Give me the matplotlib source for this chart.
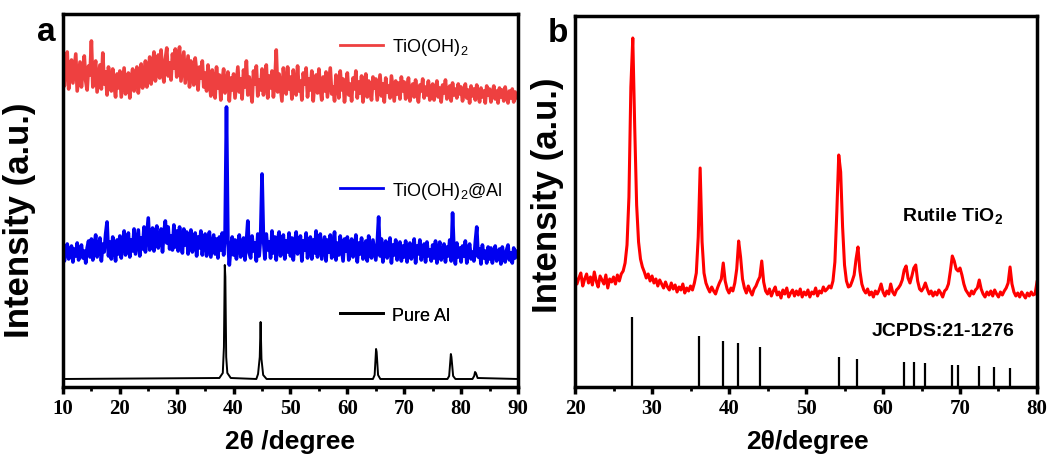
import numpy as np
import matplotlib
matplotlib.use('Agg')
import matplotlib.pyplot as plt

plt.rcParams['font.family'] = ['Liberation Sans', 'DejaVu Sans']
plt.rcParams['mathtext.fontset'] = 'custom'
plt.rcParams['mathtext.rm'] = 'Liberation Sans'
plt.rcParams['mathtext.bf'] = 'Liberation Sans:bold'

# ---- panel a: XRD patterns, 10-90 deg sampled every 0.25 deg ----
two_theta_a = np.arange(10, 90.001, 0.25)

tioh_counts = [
    330, 301, 322, 335, 298, 314, 327, 304, 319, 333, 296, 310, 325, 300, 317, 331, 306, 297, 321, 312,
    346, 300, 318, 326, 295, 309, 322, 298, 334, 303, 315, 292, 320, 307, 296, 318, 302, 290, 313, 299,
    316, 290, 305, 319, 293, 301, 314, 289, 308, 318, 296, 306, 320, 294, 311, 323, 299, 309, 326, 300,
    312, 330, 303, 321, 335, 306, 318, 332, 309, 337, 314, 305, 328, 339, 311, 324, 307, 333, 319, 338,
    310, 329, 340, 306, 321, 335, 304, 318, 331, 300, 326, 312, 302, 329, 315, 297, 320, 309, 326, 300,
    314, 296, 322, 305, 291, 317, 308, 289, 320, 299, 312, 287, 306, 318, 294, 302, 315, 286, 309, 297,
    313, 289, 304, 320, 295, 308, 288, 317, 300, 326, 292, 310, 298, 285, 316, 303, 321, 291, 307, 297,
    318, 292, 306, 322, 289, 311, 299, 316, 290, 305, 337, 295, 313, 300, 286, 319, 304, 293, 320, 298,
    310, 288, 317, 301, 292, 321, 296, 306, 287, 314, 303, 319, 290, 308, 297, 316, 286, 305, 312, 294,
    318, 299, 287, 310, 296, 315, 290, 304, 319, 293, 300, 286, 312, 306, 289, 316, 297, 308, 285, 302,
    314, 292, 303, 286, 309, 298, 316, 289, 305, 294, 311, 285, 301, 313, 290, 306, 297, 287, 310, 299,
    308, 287, 300, 312, 291, 303, 285, 309, 295, 301, 289, 311, 298, 286, 306, 293, 304, 288, 310, 296,
    305, 288, 299, 309, 286, 297, 303, 290, 307, 294, 285, 302, 296, 308, 289, 300, 292, 306, 287, 298,
    303, 287, 297, 306, 290, 299, 285, 302, 294, 307, 288, 296, 301, 286, 304, 292, 298, 289, 303, 293,
    300, 286, 295, 303, 289, 297, 284, 301, 291, 298, 287, 302, 293, 285, 299, 290, 296, 284, 301, 292,
    298, 285, 294, 301, 288, 296, 284, 299, 290, 297, 286, 300, 291, 284, 296, 289, 298, 285, 295, 290,
    288,
]

tioh_al_counts = [
    140, 126, 137, 143, 128, 133, 141, 125, 138, 131, 144, 127, 135, 142, 129, 136, 124, 139, 146, 130,
    148, 127, 141, 152, 130, 137, 149, 126, 143, 135, 153, 165, 131, 145, 128, 150, 139, 126, 147, 133,
    151, 129, 144, 156, 132, 140, 154, 130, 147, 136, 158, 133, 145, 157, 131, 149, 138, 160, 135, 152,
    169, 137, 150, 159, 136, 153, 161, 139, 147, 158, 135, 155, 166, 144, 160, 138, 151, 137, 162, 140,
    156, 136, 160, 146, 134, 158, 142, 155, 133, 149, 157, 135, 145, 154, 131, 150, 139, 156, 132, 147,
    153, 131, 146, 155, 130, 141, 152, 133, 148, 129, 150, 137, 154, 132, 152, 280, 146, 122, 139, 150,
    132, 147, 128, 143, 152, 130, 138, 149, 127, 145, 166, 134, 129, 151, 136, 144, 126, 153, 131, 150,
    213, 148, 128, 153, 137, 145, 129, 156, 134, 150, 127, 147, 155, 131, 141, 152, 128, 146, 135, 154,
    131, 149, 127, 144, 155, 133, 140, 151, 126, 146, 137, 154, 129, 143, 150, 128, 147, 134, 156, 130,
    145, 153, 128, 139, 150, 126, 147, 135, 152, 129, 141, 155, 127, 144, 132, 151, 138, 126, 148, 136,
    150, 127, 141, 148, 130, 136, 152, 125, 144, 133, 149, 128, 139, 146, 126, 151, 134, 129, 147, 137,
    127, 143, 170, 131, 148, 125, 140, 146, 129, 135, 149, 124, 142, 132, 147, 127, 138, 145, 126, 141,
    130, 146, 125, 139, 144, 128, 136, 148, 124, 141, 133, 147, 127, 138, 143, 125, 145, 131, 137, 126,
    142, 129, 146, 124, 137, 145, 127, 134, 143, 125, 140, 131, 147, 126, 174, 136, 123, 144, 130, 139,
    125, 141, 131, 146, 124, 137, 143, 128, 135, 126, 145, 160, 130, 138, 123, 142, 129, 136, 124, 140,
    128, 139, 124, 135, 141, 126, 133, 138, 123, 140, 130, 125, 137, 142, 127, 134, 124, 139, 129, 136,
    131,
]

# pure Al is smooth, so it is stored as a sparse profile
al_two_theta = [10, 37.5, 38.1, 38.3, 38.45, 38.55, 38.7, 38.9, 39.5,
                44.0, 44.3, 44.6, 44.75, 44.9, 45.2, 45.8,
                64.5, 64.8, 65.05, 65.15, 65.4, 65.8,
                77.6, 77.9, 78.2, 78.3, 78.6, 79.0,
                82.0, 82.3, 82.45, 82.6, 82.9, 90]
al_counts = [8, 9, 14, 40, 122, 110, 30, 14, 9,
             8, 13, 30, 65, 28, 12, 8,
             8, 12, 38, 35, 12, 8,
             8, 11, 33, 30, 11, 8,
             8, 11, 15, 14, 9, 8]

# ---- panel b: rutile TiO2, 20-80 deg sampled every 0.25 deg ----
two_theta_b = np.arange(20, 80.001, 0.25)

rutile_counts = [
    112, 103, 109, 114, 101, 108, 113, 104, 110, 102, 115, 106, 100, 111, 107, 103, 112, 99, 108, 105,
    110, 103, 112, 106, 113, 116, 124, 142, 190, 300, 349, 260, 182, 145, 128, 120, 115, 109, 113, 106,
    111, 104, 108, 101, 107, 103, 99, 105, 100, 97, 104, 98, 102, 95, 100, 97, 103, 94, 99, 96,
    101, 97, 104, 114, 150, 219, 145, 114, 104, 99, 95, 100, 96, 93, 99, 104, 108, 124, 106, 98,
    94, 99, 96, 104, 118, 146, 130, 108, 99, 94, 101, 96, 92, 98, 101, 106, 110, 126, 105, 96,
    93, 98, 91, 96, 100, 92, 95, 89, 97, 93, 99, 90, 94, 97, 91, 96, 92, 98, 90, 95,
    92, 97, 90, 95, 93, 99, 91, 96, 94, 100, 96, 98, 101, 99, 106, 125, 175, 232, 215, 160,
    122, 106, 100, 101, 106, 112, 128, 140, 116, 103, 97, 94, 98, 92, 95, 90, 96, 93, 97, 103,
    95, 91, 96, 93, 103, 95, 92, 97, 99, 102, 107, 117, 121, 109, 104, 111, 119, 122, 106, 98,
    96, 99, 104, 98, 93, 96, 91, 95, 92, 97, 94, 90, 96, 98, 103, 116, 131, 126, 118, 116,
    119, 112, 103, 97, 94, 91, 96, 93, 97, 99, 107, 98, 93, 90, 95, 92, 96, 91, 97, 93,
    90, 95, 92, 96, 99, 104, 120, 103, 95, 91, 94, 90, 95, 92, 89, 94, 91, 95, 92, 93,
    105,
]

# JCPDS 21-1276 reference lines
jcpds_pos = [27.45, 36.09, 39.19, 41.23, 44.05, 54.32, 56.64, 62.74, 64.04,
             65.48, 69.01, 69.79, 72.41, 74.41, 76.51]
jcpds_height = [70, 51, 46, 44, 40, 30, 28, 25, 25, 24, 22, 22, 21, 20, 19]

ticks_a = [10, 20, 30, 40, 50, 60, 70, 80, 90]
ticks_b = [20, 30, 40, 50, 60, 70, 80]

fig = plt.figure(figsize=(10.53, 4.64), dpi=100)
ax_a = fig.add_axes([0.0598, 0.1638, 0.4321, 0.8039])
ax_b = fig.add_axes([0.5461, 0.1638, 0.4387, 0.7996])


def style_axis(ax, ticks, ymax):
    ax.set_xlim(ticks[0], ticks[-1])
    ax.set_ylim(0, ymax)
    ax.set_yticks([])
    ax.set_xticks(ticks)
    ax.set_xticks(np.arange(ticks[0] + 5, ticks[-1], 10), minor=True)
    ax.set_xticklabels([str(t) for t in ticks], fontfamily='Liberation Serif',
                       fontweight='bold', fontsize=15)
    ax.tick_params(axis='x', which='major', direction='out', length=5, width=2.5, pad=3)
    ax.tick_params(axis='x', which='minor', direction='out', length=3, width=2)
    for s in ax.spines.values():
        s.set_linewidth(2.5)


# panel a: thick lines so the dense noise reads as a solid band
l_red, = ax_a.plot(two_theta_a, tioh_counts, color='#EE4040', lw=2.6)
l_blue, = ax_a.plot(two_theta_a, tioh_al_counts, color='#0000F0', lw=2.6)
l_black, = ax_a.plot(al_two_theta, al_counts, color='black', lw=1.4)
style_axis(ax_a, ticks_a, 373)

for handle, text, ypos in [(l_red, 'TiO(OH)$_2$', 0.912),
                           (l_blue, 'TiO(OH)$_2$@Al', 0.528),
                           (l_black, 'Pure Al', 0.193)]:
    leg = ax_a.legend([handle], [text], loc='center left', bbox_to_anchor=(0.609, ypos),
                      frameon=False, borderpad=0, borderaxespad=0, handlelength=2.4,
                      handletextpad=0.5, fontsize=13)
    leg.get_lines()[0].set_linewidth(2)
    ax_a.add_artist(leg)

# panel b
ax_b.plot(two_theta_b, rutile_counts, color='#FF0000', lw=2.2)
ax_b.vlines(jcpds_pos, 0, jcpds_height, color='black', lw=1.6)
style_axis(ax_b, ticks_b, 371)
ax_b.text(0.708, 0.447, 'Rutile TiO$_\\mathbf{2}$', transform=ax_b.transAxes,
          fontsize=14, fontweight='bold', va='baseline')
ax_b.text(0.643, 0.151, 'JCPDS:21-1276', transform=ax_b.transAxes,
          fontsize=14, fontweight='bold', va='center')

# axis titles and panel letters
fig.text(20 / 1053, 1 - 220 / 464, 'Intensity (a.u.)', rotation=90, ha='center',
         va='center', fontsize=25, fontweight='bold')
fig.text(548 / 1053, 1 - 195 / 464, 'Intensity (a.u.)', rotation=90, ha='center',
         va='center', fontsize=25, fontweight='bold')
fig.text(290 / 1053, 1 - 442 / 464, '2\u03b8 /degree', ha='center', va='center',
         fontsize=19, fontweight='bold')
fig.text(807 / 1053, 1 - 442 / 464, '2\u03b8/degree', ha='center', va='center',
         fontsize=19, fontweight='bold')
fig.text(46 / 1053, 1 - 41 / 464, 'a', ha='center', va='baseline',
         fontsize=24, fontweight='bold')
fig.text(558 / 1053, 1 - 42 / 464, 'b', ha='center', va='baseline',
         fontsize=24, fontweight='bold')

fig.savefig('out.png', dpi=100)
